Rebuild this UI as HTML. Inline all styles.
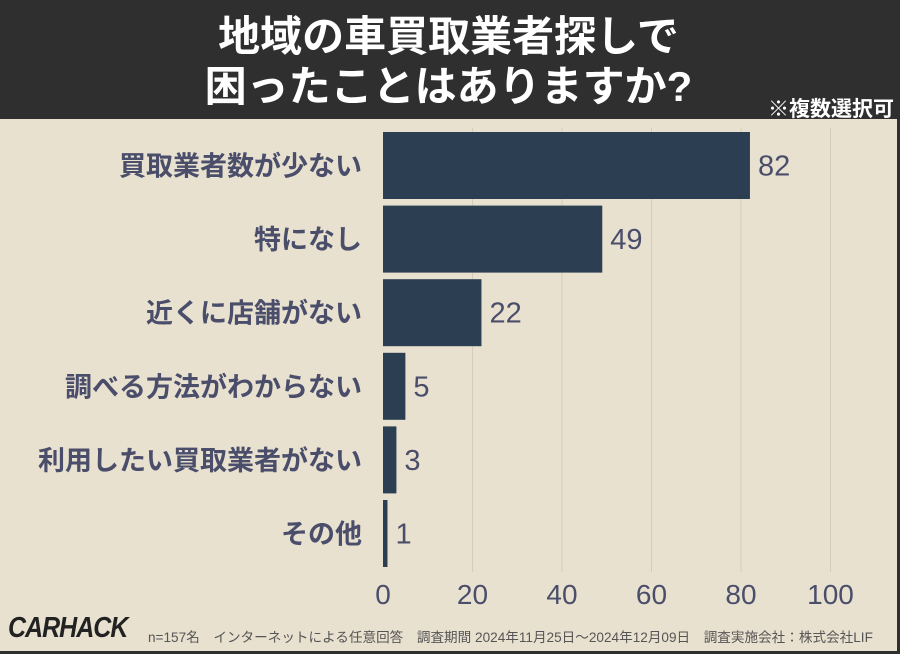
<!DOCTYPE html>
<html><head><meta charset="utf-8"><style>
body{margin:0;width:900px;height:654px;overflow:hidden;background:#2f2f2f;font-family:"Liberation Sans","Noto Sans CJK JP",sans-serif}
#frame{position:absolute;left:0;top:0;width:897px;height:651px;background:#e9e1d0}
#hdr{position:absolute;left:0;top:0;width:897px;height:119px;background:#2f2f2f;color:#fff;text-align:center;font-weight:bold;font-size:42px;line-height:50px;padding-top:12px;box-sizing:border-box}
#note{position:absolute;right:6px;top:93px;color:#fff;font-weight:bold;font-size:21px}
svg{position:absolute;left:0;top:0}
#foot{position:absolute;left:148px;top:626px;font-size:13.6px;color:#555;white-space:nowrap}
#logo{position:absolute;left:8px;top:614px;font-size:25px;font-weight:900;font-style:italic;color:#222;letter-spacing:-1px;transform:scaleY(1.15)}
</style></head><body>
<div id="frame"></div>
<div id="hdr">地域の車買取業者探しで<br>困ったことはありますか?</div>
<div id="note">※複数選択可</div>
<svg id="c" width="900" height="654"></svg>
<div id="logo">CARHACK</div>
<div id="foot">n=157名　インターネットによる任意回答　調査期間 2024年11月25日〜2024年12月09日　調査実施会社：株式会社LIF</div>
<script>
const categories=["買取業者数が少ない","特になし","近くに店舗がない","調べる方法がわからない","利用したい買取業者がない","その他"];
const values=[82,49,22,5,3,1];
const ticks=[0,20,40,60,80,100];
const svg=document.getElementById('c');const NS='http://www.w3.org/2000/svg';
const x=v=>383+v*4.475;
const y0=132,step=73.6,bh=67;
function mk(t,a){const e=document.createElementNS(NS,t);for(const k in a)e.setAttribute(k,a[k]);svg.appendChild(e);return e;}
ticks.forEach(t=>{
 if(t>0){const l=mk('line',{x1:x(t),x2:x(t),y1:128,y2:572,stroke:'#d6ccb8','stroke-width':1});
 
 }
 const tx=mk('text',{x:x(t),y:604,'text-anchor':'middle','font-size':28,fill:'#4a4e6a'});tx.textContent=t;
 
 
});
categories.forEach((c,i)=>{
 const yy=y0+i*step;
 const r=mk('rect',{x:x(0),y:yy,width:x(values[i])-x(0),height:bh,fill:'#2c3e52'});
 
 
 const v=mk('text',{x:x(values[i])+8,y:yy+bh/2+10,'font-size':29,fill:'#4a4e6a'});v.textContent=values[i];
 
 
 const l=mk('text',{x:362,y:yy+bh/2+10,'text-anchor':'end','font-size':27,'font-weight':'bold',fill:'#4a4e6a'});l.textContent=c;
 
 
});
</script>
</body></html>
